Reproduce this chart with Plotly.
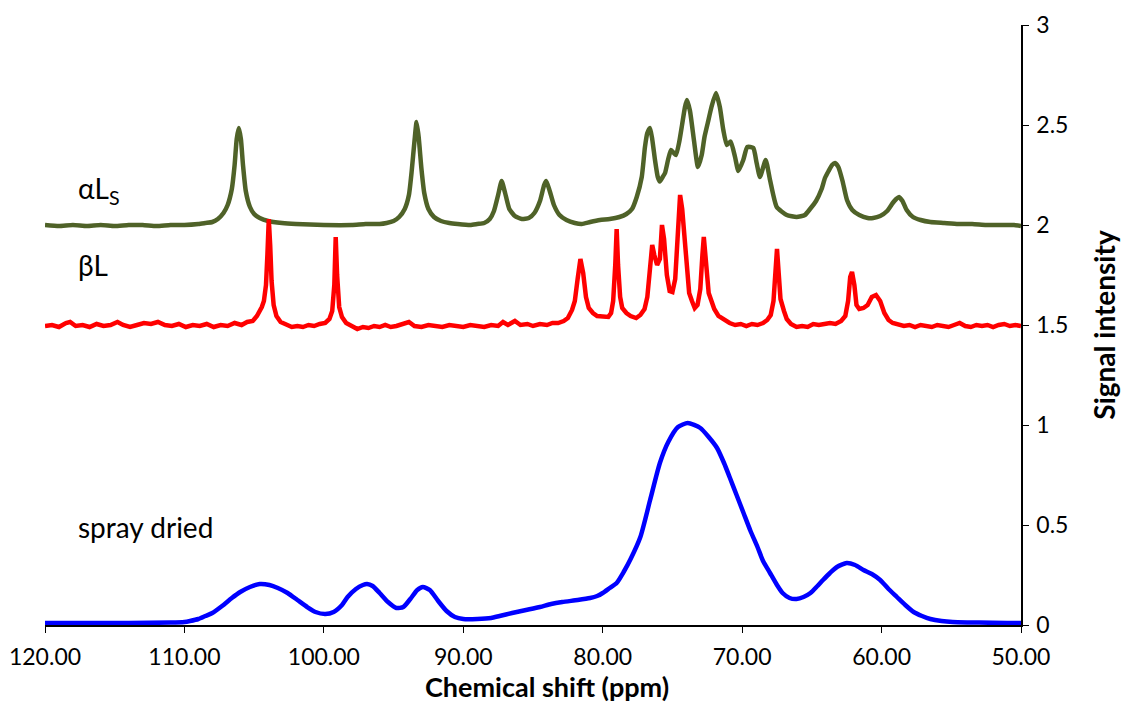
import plotly.graph_objects as go

# 13C CP/MAS spectra, chemical shift (ppm) vs signal intensity (offset stacked)

# alpha-lactose (stable anhydrous), offset +2
alpha_ppm = [120, 119, 118, 117, 116, 115, 114, 113, 112, 111, 110, 109, 108.5, 108, 107.6, 107.2,
             106.9, 106.6, 106.4, 106.25, 106.1, 105.95, 105.8, 105.6, 105.3, 105.0, 104.6, 104.0,
             103.0, 102, 100, 98, 97, 96, 95.5, 95, 94.6, 94.2, 93.9, 93.7, 93.5, 93.35, 93.2, 93.0,
             92.8, 92.5, 92.1, 91.6, 91, 90.4, 89.5, 89, 88.5, 88.1, 87.8, 87.5, 87.25, 87.0, 86.7,
             86.3, 85.8, 85.3, 84.9, 84.5, 84.2, 84.05, 83.8, 83.5, 83.1, 82.6, 82.0, 81.5, 80.9,
             80.2, 79.5, 78.8, 78.3, 77.9, 77.56, 77.2, 76.97, 76.8, 76.61, 76.45, 76.25, 76.05, 75.9,
             75.7, 75.53, 75.3, 75.1, 74.9, 74.74, 74.5, 74.31, 74.1, 73.96, 73.74, 73.45, 73.17,
             72.9, 72.7, 72.45, 72.2, 71.88, 71.6, 71.35, 71.1, 70.82, 70.51, 70.27, 69.92, 69.63,
             69.2, 68.96, 68.72, 68.31, 68.0, 67.52, 66.8, 66.09, 65.5, 65.13, 64.7, 64.3, 64.06,
             63.8, 63.55, 63.34, 63.1, 62.8, 62.48, 62.1, 61.6, 61.0, 60.6, 60.1, 59.6, 59.2, 58.95,
             58.75, 58.5, 58.2, 57.75, 57.2, 56.5, 55.5, 54.5, 53.5, 52.5, 51.5, 50.5, 50.0]
alpha_int = [2.0, 1.995, 2.0, 1.995, 2.0, 1.995, 2.0, 2.0, 1.995, 2.0, 2.0, 2.005, 2.01, 2.015, 2.03, 2.06,
             2.10, 2.18, 2.30, 2.43, 2.485, 2.43, 2.30, 2.17, 2.09, 2.055, 2.035, 2.02,
             2.01, 2.005, 2.0, 2.0, 2.005, 2.005, 2.01, 2.02, 2.04, 2.08, 2.15, 2.27, 2.42, 2.515, 2.44, 2.28,
             2.16, 2.08, 2.04, 2.02, 2.01, 2.005, 2.0, 2.005, 2.01, 2.03, 2.07, 2.15, 2.22, 2.16, 2.08,
             2.045, 2.03, 2.035, 2.06, 2.12, 2.20, 2.22, 2.17, 2.10, 2.05, 2.025, 2.01, 2.005, 2.015,
             2.025, 2.03, 2.04, 2.055, 2.08, 2.14, 2.24, 2.39, 2.46, 2.485, 2.43, 2.325, 2.24, 2.217,
             2.24, 2.26, 2.33, 2.375, 2.36, 2.35, 2.42, 2.50, 2.59, 2.625, 2.57, 2.42, 2.29,
             2.35, 2.44, 2.515, 2.59, 2.66, 2.59, 2.475, 2.40, 2.417, 2.34, 2.27, 2.325, 2.39,
             2.385, 2.31, 2.24, 2.325, 2.225, 2.09, 2.05, 2.04, 2.05, 2.08, 2.12, 2.18, 2.235,
             2.27, 2.30, 2.31, 2.29, 2.22, 2.125, 2.075, 2.05, 2.035, 2.035, 2.045, 2.07, 2.11, 2.13,
             2.14, 2.12, 2.075, 2.04, 2.025, 2.015, 2.01, 2.005, 2.005, 2.0, 2.0, 2.0, 1.995]

# beta-lactose, offset +1.5
beta_ppm = [120.0, 119.5, 119.0, 118.5, 118.2, 117.8, 117.3, 116.8, 116.3, 115.8, 115.3, 114.8, 114.4,
            113.9, 113.4, 112.9, 112.4, 111.9, 111.4, 110.9, 110.4, 109.9, 109.4, 108.9, 108.4, 107.9,
            107.4, 106.9, 106.4, 105.9, 105.5, 105.1, 104.8, 104.6, 104.45, 104.3, 104.15, 104.05,
            103.95, 103.85, 103.75, 103.6, 103.4, 103.1, 102.7, 102.3, 101.9, 101.5, 101.1, 100.7,
            100.3, 99.9, 99.6, 99.4, 99.25, 99.15, 99.05, 98.9, 98.7, 98.4, 98.0, 97.6, 97.2, 96.8,
            96.4, 96.0, 95.6, 95.2, 94.8, 94.3, 93.9, 93.5, 93.0, 92.5, 92.0, 91.5, 91.0, 90.5, 90.0,
            89.5, 89.0, 88.5, 88.0, 87.5, 87.15, 86.8, 86.3, 85.9, 85.4, 85.0, 84.5, 84.0, 83.6, 83.2,
            82.8, 82.5, 82.2, 82.0, 81.8, 81.6, 81.4, 81.2, 81.0, 80.7, 80.4, 80.0, 79.6, 79.4, 79.25,
            79.1, 79.0, 78.9, 78.75, 78.6, 78.3, 78.0, 77.6, 77.3, 77.0, 76.8, 76.6, 76.45, 76.3, 76.1,
            75.9, 75.75, 75.6, 75.4, 75.2, 75.0, 74.8, 74.6, 74.45, 74.3, 74.15, 74.0, 73.8, 73.6,
            73.4, 73.2, 73.0, 72.85, 72.75, 72.6, 72.4, 72.2, 72.0, 71.7, 71.3, 70.9, 70.5, 70.1,
            69.7, 69.3, 68.9, 68.5, 68.2, 67.95, 67.75, 67.6, 67.5, 67.4, 67.25, 67.0, 66.8, 66.5,
            66.1, 65.7, 65.3, 64.9, 64.5, 64.1, 63.7, 63.3, 62.9, 62.6, 62.4, 62.25, 62.12, 61.95,
            61.8, 61.6, 61.3, 61.0, 60.7, 60.4, 60.1, 59.8, 59.5, 59.2, 58.8, 58.4, 58.0, 57.6, 57.2,
            56.8, 56.4, 56.0, 55.6, 55.2, 54.8, 54.4, 54.0, 53.6, 53.2, 52.8, 52.4, 52.0, 51.6, 51.2,
            50.8, 50.4, 50.0]
beta_int = [1.495, 1.50, 1.49, 1.51, 1.515, 1.495, 1.50, 1.49, 1.505, 1.495, 1.50, 1.515, 1.50,
            1.49, 1.50, 1.51, 1.505, 1.515, 1.50, 1.495, 1.505, 1.49, 1.50, 1.495, 1.505, 1.49,
            1.50, 1.495, 1.51, 1.50, 1.515, 1.52, 1.545, 1.57, 1.59, 1.62, 1.70, 1.85,
            2.03, 1.90, 1.72, 1.60, 1.545, 1.515, 1.50, 1.49, 1.495, 1.49, 1.50, 1.495,
            1.505, 1.51, 1.53, 1.57, 1.70, 1.94, 1.75, 1.59, 1.54, 1.51, 1.495, 1.48, 1.49, 1.485,
            1.495, 1.49, 1.50, 1.49, 1.495, 1.505, 1.515, 1.495, 1.49, 1.50, 1.495, 1.49, 1.50, 1.495, 1.49,
            1.50, 1.495, 1.49, 1.50, 1.495, 1.515, 1.50, 1.52, 1.50, 1.505, 1.495, 1.505, 1.50, 1.51, 1.51,
            1.52, 1.535, 1.575, 1.62, 1.73, 1.83, 1.76, 1.64, 1.585, 1.56, 1.545, 1.545, 1.54, 1.56, 1.62,
            1.80, 1.98, 1.80, 1.64, 1.585, 1.56, 1.545, 1.535, 1.55, 1.58, 1.64, 1.78, 1.90, 1.85, 1.80,
            1.83, 2.00, 1.93, 1.75, 1.67, 1.665, 1.73, 1.95, 2.15, 2.08, 1.95, 1.78, 1.66, 1.62,
            1.585, 1.60, 1.68, 1.85, 1.94, 1.82, 1.66, 1.62, 1.58, 1.545, 1.525, 1.51, 1.50, 1.505,
            1.495, 1.505, 1.50, 1.51, 1.525, 1.55, 1.62, 1.78, 1.88, 1.78, 1.63, 1.57, 1.53, 1.505,
            1.49, 1.495, 1.49, 1.505, 1.50, 1.505, 1.51, 1.505, 1.52, 1.545, 1.62, 1.74, 1.765, 1.70,
            1.60, 1.58, 1.585, 1.60, 1.64, 1.65, 1.62, 1.56, 1.525, 1.51, 1.50, 1.495, 1.50, 1.49, 1.50,
            1.495, 1.49, 1.50, 1.495, 1.49, 1.50, 1.51, 1.495, 1.49, 1.50, 1.495, 1.50, 1.49, 1.50, 1.505,
            1.495, 1.50, 1.495]

# spray-dried (amorphous) lactose
spray_ppm = [120, 117, 114, 111, 110, 109.6, 109, 108.5, 108, 107.3, 106.6, 106, 105.3, 104.6, 103.9,
             103.3, 102.6, 101.9, 101.2, 100.6, 99.9, 99.3, 98.7, 98.3, 97.7, 97.2, 96.9, 96.5, 96.0,
             95.4, 94.8, 94.3, 93.8, 93.3, 92.9, 92.4, 91.8, 91.2, 90.6, 90.0, 89, 88, 87.4, 86.5, 85.5,
             84.5, 83.7, 82.9, 81.8, 80.9, 80.4, 80.0, 79.5, 79.0, 78.5, 78.0, 77.3, 76.6, 75.9, 75.3,
             74.6, 73.9, 73.0, 72.4, 71.8, 71.3, 70.9, 70.4, 69.9, 69.4, 68.9, 68.5, 68.0, 67.5, 67.1,
             66.6, 66.1, 65.6, 65.1, 64.6, 64.2, 63.7, 63.2, 62.5, 61.9, 61.3, 60.7, 60.1, 59.5, 58.9,
             58.3, 57.7, 57.1, 56.5, 55.7, 54.9, 53, 51, 50]
spray_int = [0.01, 0.01, 0.01, 0.012, 0.015, 0.02, 0.03, 0.045, 0.06, 0.095, 0.135, 0.165, 0.19, 0.205, 0.2,
             0.185, 0.16, 0.125, 0.09, 0.065, 0.055, 0.065, 0.1, 0.14, 0.18, 0.2, 0.205, 0.195, 0.16,
             0.115, 0.085, 0.09, 0.13, 0.175, 0.19, 0.175, 0.12, 0.07, 0.04, 0.03, 0.03, 0.035, 0.045, 0.06, 0.075,
             0.09, 0.105, 0.115, 0.125, 0.135, 0.145, 0.16, 0.185, 0.21, 0.265, 0.33, 0.44, 0.625, 0.81, 0.915,
             0.99, 1.01, 0.985, 0.94, 0.885, 0.81, 0.74, 0.65, 0.56, 0.47, 0.39, 0.32, 0.26, 0.2, 0.16,
             0.135, 0.13, 0.14, 0.16, 0.195, 0.225, 0.26, 0.29, 0.31, 0.3, 0.275, 0.255, 0.225, 0.18, 0.14,
             0.1, 0.065, 0.045, 0.03, 0.02, 0.015, 0.012, 0.01, 0.01]

x_ticks = [120, 110, 100, 90, 80, 70, 60, 50]
y_ticks = [0, 0.5, 1, 1.5, 2, 2.5, 3]

labels = ["αL<sub>S</sub>", "βL", "spray dried"]
label_y = [2.175, 1.8, 0.49]

FONT = "Lato, Carlito, 'Open Sans', sans-serif"

fig = go.Figure()
fig.add_trace(go.Scatter(x=alpha_ppm, y=alpha_int, mode="lines",
                         line=dict(color="#4F6228", width=4.5, shape="spline", smoothing=0.5),
                         name="αLs"))
fig.add_trace(go.Scatter(x=beta_ppm, y=beta_int, mode="lines",
                         line=dict(color="#FF0000", width=4.5),
                         name="βL"))
fig.add_trace(go.Scatter(x=spray_ppm, y=spray_int, mode="lines",
                         line=dict(color="#0000FF", width=4.5, shape="spline", smoothing=0.6),
                         name="spray dried"))

for txt, yy in zip(labels, label_y):
    fig.add_annotation(x=117.75, y=yy, text=txt, showarrow=False, xanchor="left", yanchor="middle",
                       font=dict(family=FONT, size=28, color="black"))

# x-axis title, set just under the tick labels and kept inside the page
fig.add_annotation(x=0.514, y=-0.1317, xref="paper", yref="paper",
                   text="<b>Chemical shift (ppm)</b>", showarrow=False,
                   xanchor="center", yanchor="bottom", borderpad=0,
                   font=dict(family=FONT, size=27, color="black"))

fig.update_layout(
    width=1121, height=704,
    margin=dict(l=45, r=100, t=25, b=79, autoexpand=False),
    plot_bgcolor="white", paper_bgcolor="white",
    showlegend=False,
    font=dict(family=FONT, color="black"),
    xaxis=dict(
        range=[120, 50], tickvals=x_ticks, tickformat=".2f",
        showgrid=False, zeroline=False, automargin=False,
        showline=True, linecolor="black", linewidth=1.5,
        ticks="outside", ticklen=6, tickwidth=1.3, tickcolor="black",
        ticklabelstandoff=5,
        tickfont=dict(size=23, family=FONT),
    ),
    yaxis=dict(
        range=[0, 3], tickvals=y_ticks, side="right",
        showgrid=False, zeroline=False, automargin=False,
        showline=True, linecolor="black", linewidth=1.5,
        ticks="outside", ticklen=6, tickwidth=1.3, tickcolor="black",
        ticklabelstandoff=3,
        tickfont=dict(size=23, family=FONT),
        title=dict(text="<b>Signal intensity</b>", font=dict(size=28, family=FONT), standoff=28),
    ),
)

fig.write_html("out.html")
